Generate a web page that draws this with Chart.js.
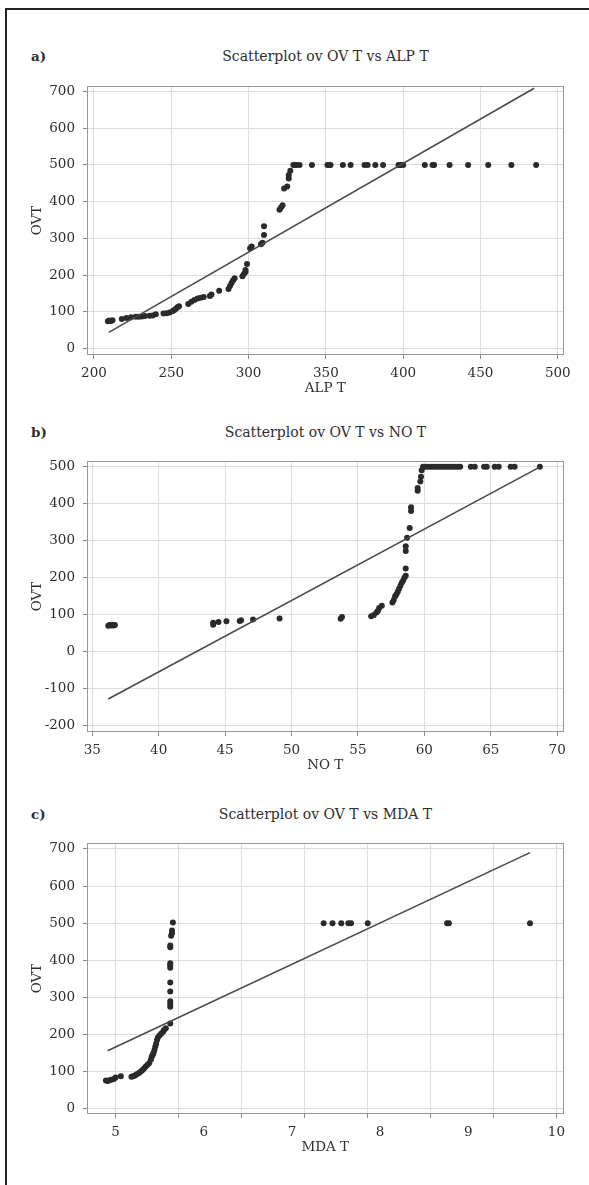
<!DOCTYPE html>
<html>
<head>
<meta charset="utf-8">
<script src="https://cdn.jsdelivr.net/npm/chart.js@4.4.0/dist/chart.umd.min.js"></script>
<style>
  body { margin: 0; background: #fff; width: 589px; height: 1185px; position: relative; overflow: hidden; font-family: "DejaVu Serif", serif; color: #2e2e2e; }
  .frame { position: absolute; left: 5px; top: 8px; width: 700px; height: 1300px; border-left: 2px solid #222; border-top: 2px solid #222; }
  .tag { position: absolute; left: 31px; font-weight: bold; font-size: 13.5px; line-height: 18px; }
  .title { position: absolute; left: 87px; width: 477px; text-align: center; font-size: 14px; line-height: 18px; }
  canvas { position: absolute; left: 0; }
</style>
</head>
<body>
<div class="frame"></div>

<div class="tag" style="top:47px">a)</div>
<div class="title" style="top:47px">Scatterplot ov OV T vs ALP T</div>
<canvas id="chartA" width="589" height="330" style="top:70px"></canvas>

<div class="tag" style="top:423px">b)</div>
<div class="title" style="top:423px">Scatterplot ov OV T vs NO T</div>
<canvas id="chartB" width="589" height="332" style="top:445px"></canvas>

<div class="tag" style="top:805px">c)</div>
<div class="title" style="top:805px">Scatterplot ov OV T vs MDA T</div>
<canvas id="chartC" width="589" height="332" style="top:827px"></canvas>

<script>
// a) OV T vs ALP T
const alpT = [209, 210, 211, 212, 218, 221, 224, 227, 229, 231, 233, 236, 238, 240, 245, 247, 249, 251, 252, 253, 254, 255,
  261, 263, 265, 267, 269, 271, 275, 276, 281, 287, 288, 289, 290, 291, 296, 297, 298, 298, 299, 301, 302, 308, 309, 310,
  310, 320, 321, 322, 323, 325, 326, 326, 327,
  329, 330, 331, 333, 341, 351, 352, 353, 361, 366, 375, 377, 382, 387, 397, 398, 399, 400, 414, 419, 420, 430, 442, 455, 470, 486];
const ovtA = [74, 76, 75, 77, 80, 83, 85, 86, 86, 87, 88, 89, 90, 93, 95, 96, 98, 102, 105, 108, 112, 115,
  121, 127, 132, 136, 138, 140, 143, 147, 157, 162, 170, 178, 186, 191, 197, 203, 208, 214, 230, 273, 278, 284, 288, 309,
  333, 378, 384, 390, 436, 441, 463, 473, 484,
  500, 500, 500, 500, 500, 500, 500, 500, 500, 500, 500, 500, 500, 500, 500, 500, 500, 500, 500, 500, 500, 500, 500, 500, 500, 500];
const alpFitX = [209.6, 484.7];
const alpFitY = [43.6, 709];
const alpTicks = [200, 250, 300, 350, 400, 450, 500];
const ovtTicksA = [0, 100, 200, 300, 400, 500, 600, 700];

// b) OV T vs NO T
const noT = [36.2, 36.3, 36.4, 36.5, 36.6, 36.7,
  44.1, 44.1, 44.5, 45.1, 46.1, 46.2, 47.1, 49.1, 53.7, 53.8,
  56.0, 56.2, 56.4, 56.5, 56.6, 56.8, 57.6, 57.7, 57.8, 57.9, 58.0, 58.1, 58.2, 58.3, 58.4, 58.5, 58.6, 58.6, 58.6, 58.6,
  58.7, 58.9, 59.0, 59.0, 59.5, 59.5, 59.7, 59.75, 59.8,
  59.9, 60.1, 60.3, 60.5, 60.7, 60.9, 61.1, 61.3, 61.5, 61.7, 61.9, 62.1, 62.3, 62.5, 62.7, 63.5, 63.8, 64.5, 64.7, 65.3,
  65.6, 66.5, 66.8, 68.7];
const ovtB = [70, 72, 71, 73, 71, 72,
  73, 78, 80, 82, 83, 85, 87, 90, 89, 94,
  96, 99, 106, 110, 118, 124, 133, 140, 150, 155, 162, 170, 178, 186, 192, 200, 205, 225, 272, 285,
  308, 334, 380, 390, 435, 442, 460, 473, 490,
  500, 500, 500, 500, 500, 500, 500, 500, 500, 500, 500, 500, 500, 500, 500, 500, 500, 500, 500, 500,
  500, 500, 500, 500];
const noFitX = [36.2, 68.65];
const noFitY = [-128, 498];
const noTicks = [35, 40, 45, 50, 55, 60, 65, 70];
const ovtTicksB = [-200, -100, 0, 100, 200, 300, 400, 500];

// c) OV T vs MDA T
const mdaT = [4.89, 4.91, 4.93, 4.95, 4.98, 5.0, 5.06, 5.18, 5.2, 5.22, 5.24, 5.26, 5.28, 5.3, 5.32, 5.34, 5.36, 5.38,
  5.4, 5.41, 5.42, 5.43, 5.44, 5.45, 5.46, 5.47, 5.48, 5.5, 5.52, 5.54, 5.55, 5.57,
  5.62, 5.62, 5.62, 5.62, 5.62, 5.62, 5.62, 5.62, 5.62, 5.62, 5.62, 5.63, 5.64, 5.64, 5.65,
  7.36, 7.46, 7.56, 7.64, 7.67, 7.86, 8.76, 8.78, 9.70];
const ovtC = [76, 75, 77, 78, 80, 84, 88, 86, 88, 90, 93, 96, 99, 103, 108, 113, 118, 123,
  132, 140, 145, 150, 158, 167, 175, 185, 192, 198, 203, 208, 212, 217,
  230, 275, 282, 290, 316, 340, 380, 386, 392, 435, 440, 466, 473, 480, 502,
  500, 500, 500, 500, 500, 500, 500, 500, 500];
const mdaFitX = [4.91, 9.70];
const mdaFitY = [156.6, 690];
const mdaTicks = [5, 6, 7, 8, 9, 10];
const mdaGrid = [5, 5.714, 6.429, 7.143, 7.857, 8.571, 9.286, 10];
const ovtTicksC = [0, 100, 200, 300, 400, 500, 600, 700];

const textColor = "#2e2e2e";
const tickMarkColor = "#8a8a8a";
const gridColor = "#dedede";
const font = { family: "DejaVu Serif", size: 13.5 };

const pts = (xs, ys) => xs.map((x, i) => ({ x, y: ys[i] }));
const fixedTicks = (vals) => (scale) => {
  scale.ticks = vals.map((v) => ({ value: v }));
};

// light box round the plot area
const frame = {
  id: "frame",
  beforeDatasetsDraw(chart) {
    const { ctx, chartArea: a } = chart;
    ctx.save();
    ctx.strokeStyle = "#979797";
    ctx.lineWidth = 1;
    ctx.strokeRect(Math.round(a.left) + 0.5, Math.round(a.top) + 0.5,
      Math.round(a.right - a.left) - 1, Math.round(a.bottom - a.top) - 1);
    ctx.restore();
  },
};

function yScale(ticks, min, max) {
  return {
    type: "linear",
    min,
    max,
    afterFit: (s) => { s.width = 87; },
    afterBuildTicks: fixedTicks(ticks),
    grid: { color: gridColor, tickColor: tickMarkColor, tickLength: 4 },
    border: { display: false },
    ticks: { color: textColor, font, padding: 8 },
    title: { display: true, text: "OVT", color: textColor, font, padding: { top: 29.5, bottom: 0 } },
  };
}

function xScale(label, ticks, min, max) {
  return {
    type: "linear",
    position: "bottom",
    min,
    max,
    afterFit: (s) => { s.height = 45; },
    afterBuildTicks: fixedTicks(ticks),
    grid: { color: gridColor, tickColor: tickMarkColor, tickLength: 4 },
    border: { display: false },
    ticks: { color: textColor, font, padding: 6.5, maxRotation: 0 },
    title: { display: true, text: label, color: textColor, font, padding: { top: 0, bottom: 3.2 } },
  };
}

function datasets(xs, ys, fitX, fitY) {
  return [
    {
      data: pts(fitX, fitY),
      showLine: true,
      borderColor: "#4a4a4a",
      borderWidth: 1.6,
      pointRadius: 0,
    },
    {
      data: pts(xs, ys),
      backgroundColor: "#2a2a2a",
      pointRadius: 3,
      borderWidth: 0,
    },
  ];
}

function baseOptions(scales) {
  return {
    responsive: false,
    animation: false,
    devicePixelRatio: 1,
    layout: { padding: { top: 16, right: 25.5, left: 0, bottom: 0 } },
    plugins: { legend: { display: false }, tooltip: { enabled: false } },
    scales,
  };
}

new Chart(document.getElementById("chartA"), {
  type: "scatter",
  data: { datasets: datasets(alpT, ovtA, alpFitX, alpFitY) },
  options: baseOptions({
    x: xScale("ALP T", alpTicks, 195.5, 503.7),
    y: yScale(ovtTicksA, -18, 715),
  }),
  plugins: [frame],
});

new Chart(document.getElementById("chartB"), {
  type: "scatter",
  data: { datasets: datasets(noT, ovtB, noFitX, noFitY) },
  options: baseOptions({
    x: xScale("NO T", noTicks, 34.6, 70.48),
    y: yScale(ovtTicksB, -217, 515),
  }),
  plugins: [frame],
});

// in c) the grid lines do not sit on the labelled values, so a second,
// unlabelled bottom axis carries the grid and tick marks
new Chart(document.getElementById("chartC"), {
  type: "scatter",
  data: { datasets: datasets(mdaT, ovtC, mdaFitX, mdaFitY) },
  options: baseOptions({
    xg: {
      type: "linear",
      position: "bottom",
      weight: 0,
      min: 4.676,
      max: 10.08,
      afterFit: (s) => { s.height = 0; },
      afterBuildTicks: fixedTicks(mdaGrid),
      grid: { color: gridColor, tickColor: tickMarkColor, tickLength: 4 },
      border: { display: false },
      ticks: { display: false },
    },
    x: {
      type: "linear",
      position: "bottom",
      weight: 1,
      min: 4.676,
      max: 10.08,
      afterFit: (s) => { s.height = 45; },
      afterBuildTicks: fixedTicks(mdaTicks),
      grid: { display: false, drawTicks: false },
      border: { display: false },
      ticks: { color: textColor, font, padding: 10.5, maxRotation: 0 },
      title: { display: true, text: "MDA T", color: textColor, font, padding: { top: 0, bottom: 3.2 } },
    },
    y: yScale(ovtTicksC, -14, 715.6),
  }),
  plugins: [frame],
});
</script>
</body>
</html>
